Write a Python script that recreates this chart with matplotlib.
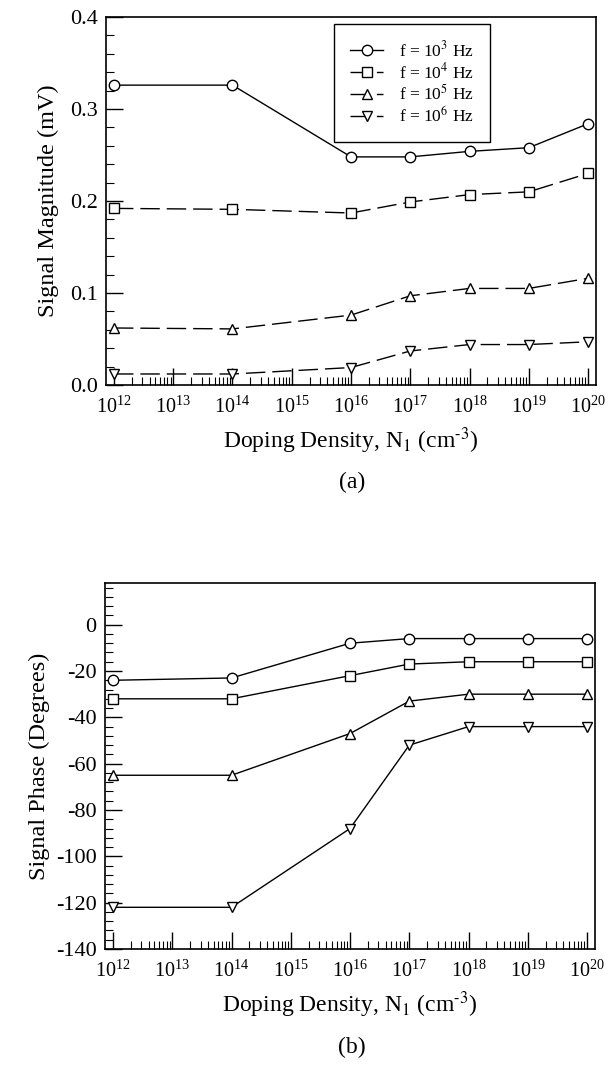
import numpy as np
import matplotlib
matplotlib.use("Agg")
import matplotlib.pyplot as plt
from matplotlib.ticker import (FixedLocator, LogFormatterMathtext, MultipleLocator,
                               FormatStrFormatter, NullFormatter)

plt.rcParams['font.family'] = ['Liberation Serif', 'DejaVu Serif']
plt.rcParams['mathtext.fontset'] = 'stix'
plt.rcParams['axes.unicode_minus'] = False

# doping density (cm^-3)
doping = [1e12, 1e14, 1e16, 1e17, 1e18, 1e19, 1e20]

# (a) signal magnitude (mV)
mag_1e3 = [0.326, 0.326, 0.248, 0.248, 0.254, 0.258, 0.284]
mag_1e4 = [0.192, 0.191, 0.187, 0.199, 0.207, 0.210, 0.230]
mag_1e5 = [0.062, 0.061, 0.076, 0.097, 0.105, 0.105, 0.116]
mag_1e6 = [0.012, 0.012, 0.019, 0.037, 0.044, 0.044, 0.047]

# (b) signal phase (degrees)
ph_1e3 = [-24, -23, -8, -6, -6, -6, -6]
ph_1e4 = [-32, -32, -22, -17, -16, -16, -16]
ph_1e5 = [-65, -65, -47, -33, -30, -30, -30]
ph_1e6 = [-122, -122, -88, -52, -44, -44, -44]

labels = ['f = 10$^3$ Hz', 'f = 10$^4$ Hz', 'f = 10$^5$ Hz', 'f = 10$^6$ Hz']
markers = ['o', 's', '^', 'v']
xlabel = 'Doping Density, N$_1$ (cm$^{\u20103}$)'

# tick positions on the log axis (decades 1e12..1e20 only)
decades = [10.0 ** k for k in range(12, 21)]
minors = [m * 10.0 ** k for k in range(12, 20) for m in range(2, 10)]

fig = plt.figure(figsize=(6.08, 10.8), dpi=100)
ax1 = fig.add_axes([0.1743, 0.6435, 0.8060, 0.3407])
ax2 = fig.add_axes([0.1727, 0.1213, 0.8060, 0.3389])

mk = dict(markersize=7.5, markerfacecolor='white', markeredgecolor='black',
          markeredgewidth=1.0, color='black', linewidth=1.0)

dash = (0, (14, 5))
styles_a = ['-', dash, dash, dash]
for vals, m, ls, lab in zip([mag_1e3, mag_1e4, mag_1e5, mag_1e6], markers, styles_a, labels):
    ax1.plot(doping, vals, marker=m, linestyle=ls, label=lab, **mk)

for vals, m in zip([ph_1e3, ph_1e4, ph_1e5, ph_1e6], markers):
    ax2.plot(doping, vals, marker=m, linestyle='-', **mk)

for ax in (ax1, ax2):
    ax.set_xscale('log')
    ax.set_xlim(10**11.865, 10**20.135)
    ax.xaxis.set_major_locator(FixedLocator(decades))
    ax.xaxis.set_major_formatter(LogFormatterMathtext())
    ax.xaxis.set_minor_locator(FixedLocator(minors))
    ax.xaxis.set_minor_formatter(NullFormatter())
    ax.tick_params(which='major', direction='in', length=12, width=1)
    ax.tick_params(which='minor', direction='in', length=6, width=0.8)
    ax.tick_params(axis='x', which='major', labelsize=14.5, pad=8)
    ax.tick_params(axis='y', which='major', labelsize=16, pad=6)
    for s in ax.spines.values():
        s.set_linewidth(1.2)
    ax.set_xlabel(xlabel, fontsize=17, labelpad=6)

ax1.set_ylim(0, 0.4)
ax1.yaxis.set_major_locator(MultipleLocator(0.1))
ax1.yaxis.set_minor_locator(MultipleLocator(0.02))
ax1.yaxis.set_major_formatter(FormatStrFormatter('%.1f'))
ax1.set_ylabel('Signal Magnitude (mV)', fontsize=17.5, labelpad=8)

ax2.set_ylim(-140, 18)
ax2.yaxis.set_major_locator(MultipleLocator(20))
ax2.yaxis.set_minor_locator(MultipleLocator(4))
ax2.set_ylabel('Signal Phase (Degrees)', fontsize=17.5, labelpad=4)

leg = ax1.legend(loc='upper left', bbox_to_anchor=(0.465, 0.981), fontsize=12.5,
                 fancybox=False, framealpha=1, edgecolor='black', borderaxespad=0,
                 handlelength=1.9, borderpad=0.95, labelspacing=0.1, handletextpad=0.9)
leg.get_frame().set_linewidth(1.0)

fig.text(0.5787, 1 - 482 / 1080, '(a)', ha='center', va='center', fontsize=17)
fig.text(0.5787, 1 - 1047 / 1080, '(b)', ha='center', va='center', fontsize=17)

fig.savefig('out.png', dpi=100)
